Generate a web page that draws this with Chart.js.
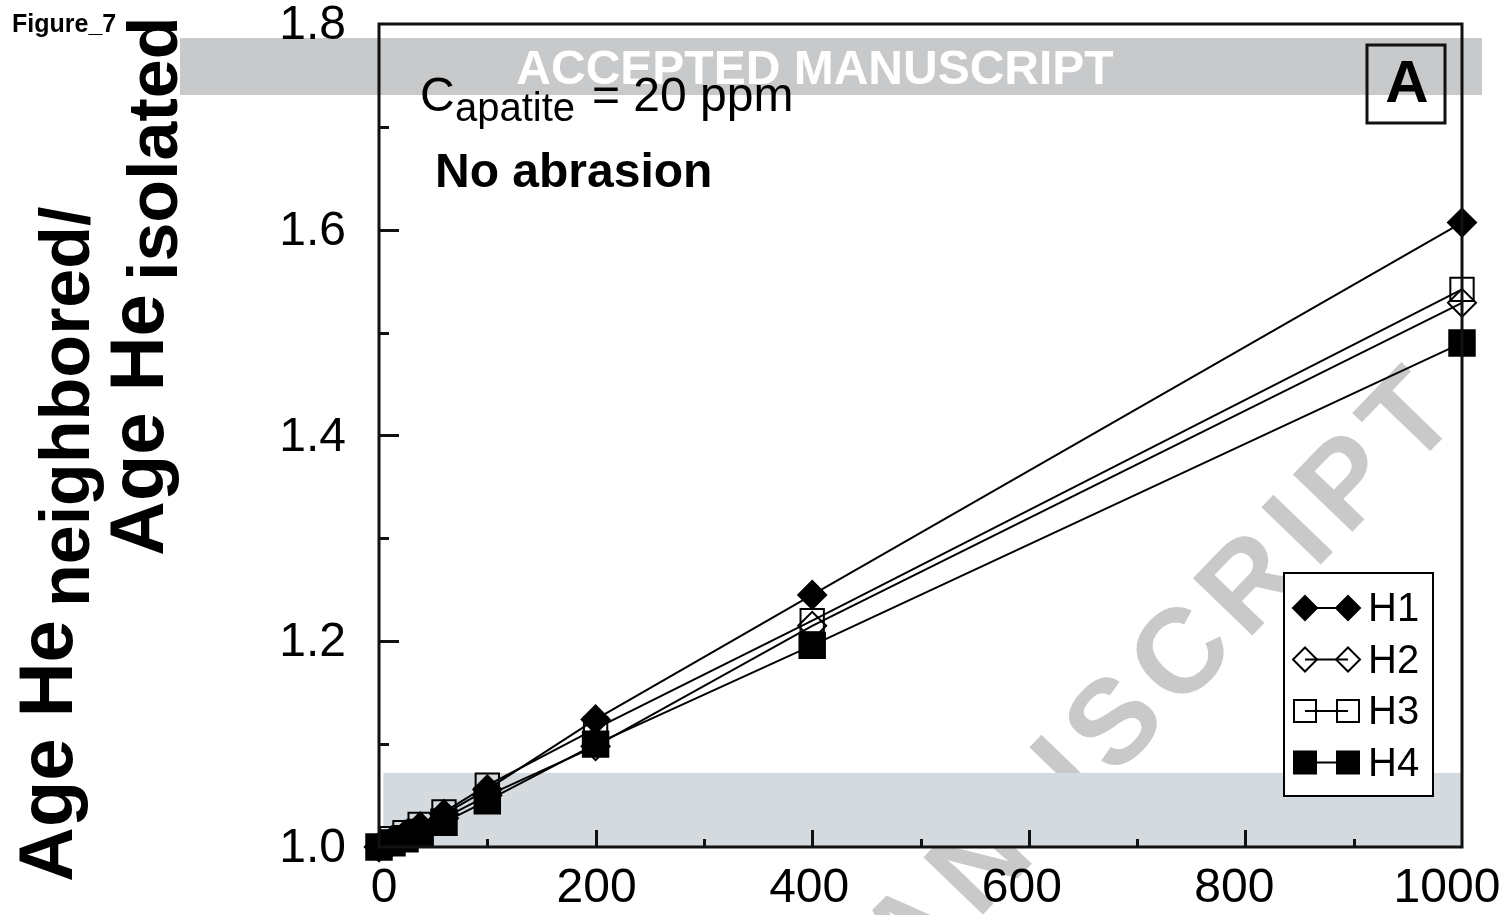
<!DOCTYPE html>
<html>
<head>
<meta charset="utf-8">
<script src="https://cdn.jsdelivr.net/npm/chart.js@4.4.1/dist/chart.umd.min.js"></script>
<style>
  html, body { margin: 0; padding: 0; background: #fff; }
  #wrap { width: 1503px; height: 915px; }
</style>
</head>
<body>
<div id="wrap"><canvas id="ageChart" width="1503" height="915"></canvas></div>
<script>
// eU content of the neighbour (x) vs age ratio (y)
const neighborU = [0, 12, 24, 38, 60, 100, 200, 400, 1000];
const h1 = [1.000, 1.006, 1.012, 1.020, 1.032, 1.056, 1.124, 1.245, 1.607];
const h2 = [1.000, 1.005, 1.010, 1.017, 1.028, 1.050, 1.098, 1.215, 1.529];
const h3 = [1.000, 1.008, 1.014, 1.022, 1.034, 1.060, 1.115, 1.220, 1.542];
const h4 = [1.000, 1.004, 1.008, 1.014, 1.024, 1.045, 1.100, 1.196, 1.490];
const seriesNames = ['H1', 'H2', 'H3', 'H4'];
const xTickLabels = [0, 200, 400, 600, 800, 1000];
const yTickLabels = [1.0, 1.2, 1.4, 1.6, 1.8];

const FONT = '"Liberation Sans", Arial, Helvetica, sans-serif';

const markerStyles = {
    H1: { shape: 'diamond', filled: true, radius: 14 },
    H2: { shape: 'diamond', filled: false, radius: 14 },
    H3: { shape: 'square', filled: false, radius: 16.5 },
    H4: { shape: 'square', filled: true, radius: 18 }
};

function makeDataset(name, values, order) {
    const m = markerStyles[name];
    return {
        label: name,
        data: neighborU.map((x, i) => ({ x: x, y: values[i] })),
        borderColor: '#000',
        borderWidth: 2,
        tension: 0,
        pointStyle: m.shape === 'diamond' ? 'rectRot' : 'rect',
        pointRadius: m.radius,
        pointBorderWidth: 2,
        pointBorderColor: '#000',
        pointBackgroundColor: m.filled ? '#000' : 'rgba(0,0,0,0)',
        clip: false,
        order: order
    };
}

function legendMarker(ctx, name, x, y) {
    const m = markerStyles[name];
    ctx.beginPath();
    if (m.shape === 'diamond') {
        const r = 12;
        ctx.moveTo(x, y - r);
        ctx.lineTo(x + r, y);
        ctx.lineTo(x, y + r);
        ctx.lineTo(x - r, y);
        ctx.closePath();
    } else {
        const s = 11;
        ctx.rect(x - s, y - s, 2 * s, 2 * s);
    }
    if (m.filled) {
        ctx.fillStyle = '#000';
        ctx.fill();
    }
    ctx.lineWidth = 2;
    ctx.strokeStyle = '#000';
    ctx.stroke();
}

const decorPlugin = {
    id: 'decor',
    beforeDraw(chart) {
        const ctx = chart.ctx;
        const xs = chart.scales.x, ys = chart.scales.y;
        ctx.save();
        ctx.fillStyle = '#fff';
        ctx.fillRect(0, 0, chart.width, chart.height);

        // diagonal watermark
        ctx.save();
        ctx.translate(1470, 410);
        ctx.rotate(-46 * Math.PI / 180);
        ctx.font = 'bold 120px ' + FONT;
        ctx.letterSpacing = '12px';
        ctx.fillStyle = '#c9c9c9';
        ctx.textAlign = 'right';
        ctx.textBaseline = 'alphabetic';
        ctx.fillText('ACCEPTED MANUSCRIPT', 0, 0);
        ctx.restore();

        // light band along the bottom
        ctx.fillStyle = '#d5dadf';
        const bx0 = xs.getPixelForValue(4), bx1 = xs.getPixelForValue(1000);
        const by0 = ys.getPixelForValue(1.072), by1 = ys.getPixelForValue(1.0);
        ctx.fillRect(bx0, by0, bx1 - bx0, by1 - by0);

        // top banner
        ctx.fillStyle = '#c8c9cb';
        ctx.fillRect(180, 38, 1302, 57);
        ctx.fillStyle = '#fff';
        ctx.font = 'bold 48px ' + FONT;
        ctx.textAlign = 'center';
        ctx.fillText('ACCEPTED MANUSCRIPT', 815, 84);

        // tick labels
        ctx.fillStyle = '#000';
        ctx.font = '48px ' + FONT;
        ctx.textBaseline = 'middle';
        ctx.textAlign = 'right';
        yTickLabels.forEach(v => {
            ctx.fillText(v.toFixed(1), 346, ys.getPixelForValue(v) + 2);
        });
        ctx.textAlign = 'center';
        xTickLabels.forEach(v => {
            ctx.fillText(String(v), xs.getPixelForValue(v) + 5 - v * 0.02, 889);
        });
        ctx.restore();
    },
    afterDraw(chart) {
        const ctx = chart.ctx;
        const a = chart.chartArea;
        const xs = chart.scales.x, ys = chart.scales.y;
        ctx.save();

        // frame
        ctx.strokeStyle = '#111';
        ctx.lineWidth = 3;
        ctx.strokeRect(a.left, a.top, a.right - a.left, a.bottom - a.top);

        // inward ticks
        ctx.lineWidth = 3;
        ctx.beginPath();
        for (let v = 1.1; v < 1.79; v += 0.1) {
            const py = Math.round(ys.getPixelForValue(v)) + 0.5;
            const major = Math.round(v * 10) % 2 === 0;
            ctx.moveTo(a.left, py);
            ctx.lineTo(a.left + (major ? 20 : 10), py);
        }
        for (let v = 100; v < 1000; v += 100) {
            const px = Math.round(xs.getPixelForValue(v)) + 0.5;
            const major = v % 200 === 0;
            ctx.moveTo(px, a.bottom);
            ctx.lineTo(px, a.bottom - (major ? 17 : 8));
        }
        ctx.stroke();

        // annotations
        ctx.fillStyle = '#000';
        ctx.textAlign = 'left';
        ctx.textBaseline = 'alphabetic';
        ctx.font = '48px ' + FONT;
        ctx.fillText('C', 420, 111);
        ctx.font = '40px ' + FONT;
        ctx.fillText('apatite', 455, 121);
        ctx.font = '48px ' + FONT;
        ctx.fillText('= 20 ppm', 592, 111);
        ctx.font = 'bold 48px ' + FONT;
        ctx.fillText('No abrasion', 435, 187);

        // panel letter
        ctx.lineWidth = 3;
        ctx.strokeRect(1367, 45, 78, 78);
        ctx.font = 'bold 60px ' + FONT;
        ctx.textAlign = 'center';
        ctx.fillText('A', 1407, 102);

        // legend
        ctx.fillStyle = '#fff';
        ctx.fillRect(1284, 573, 149, 223);
        ctx.lineWidth = 2;
        ctx.strokeStyle = '#000';
        ctx.strokeRect(1284, 573, 149, 223);
        ctx.font = '40px ' + FONT;
        ctx.textAlign = 'left';
        ctx.textBaseline = 'middle';
        seriesNames.forEach((name, i) => {
            const ry = 608 + i * 51.5;
            ctx.beginPath();
            ctx.moveTo(1305, ry);
            ctx.lineTo(1348, ry);
            ctx.lineWidth = 2;
            ctx.stroke();
            legendMarker(ctx, name, 1305, ry);
            legendMarker(ctx, name, 1348, ry);
            ctx.fillStyle = '#000';
            ctx.fillText(name, 1368, ry + 2);
        });

        // y axis title, two rotated lines with subscripts
        ctx.textAlign = 'left';
        ctx.textBaseline = 'alphabetic';
        function titleLine(x, y, main, sub, subShift) {
            ctx.save();
            ctx.translate(x, y);
            ctx.rotate(-Math.PI / 2);
            ctx.font = 'bold 76px ' + FONT;
            ctx.fillText(main, 0, 0);
            const w = ctx.measureText(main + ' ').width;
            ctx.font = 'bold 70px ' + FONT;
            ctx.fillText(sub, w - 8, subShift);
            ctx.restore();
        }
        titleLine(72, 882, 'Age He', 'neighbored/', 17);
        titleLine(163, 556, 'Age He', 'isolated', 14);

        // figure tag
        ctx.font = 'bold 25px ' + FONT;
        ctx.fillText('Figure_7', 12, 32);
        ctx.restore();
    }
};

new Chart(document.getElementById('ageChart'), {
    type: 'line',
    data: {
        datasets: [
            makeDataset('H1', h1, 1),
            makeDataset('H2', h2, 3),
            makeDataset('H3', h3, 2),
            makeDataset('H4', h4, 0)
        ]
    },
    options: {
        responsive: false,
        animation: false,
        layout: { padding: { top: 24, right: 41, left: 0, bottom: 0 } },
        plugins: { legend: { display: false }, tooltip: { enabled: false } },
        scales: {
            x: {
                type: 'linear',
                min: 0,
                max: 1000,
                grid: { display: false, drawTicks: false },
                border: { display: false },
                ticks: { display: false, stepSize: 100 },
                afterFit: s => { s.height = 68; }
            },
            y: {
                min: 1.0,
                max: 1.8,
                grid: { display: false, drawTicks: false },
                border: { display: false },
                ticks: { display: false, stepSize: 0.1 },
                afterFit: s => { s.width = 379; }
            }
        }
    },
    plugins: [decorPlugin]
});
</script>
</body>
</html>
